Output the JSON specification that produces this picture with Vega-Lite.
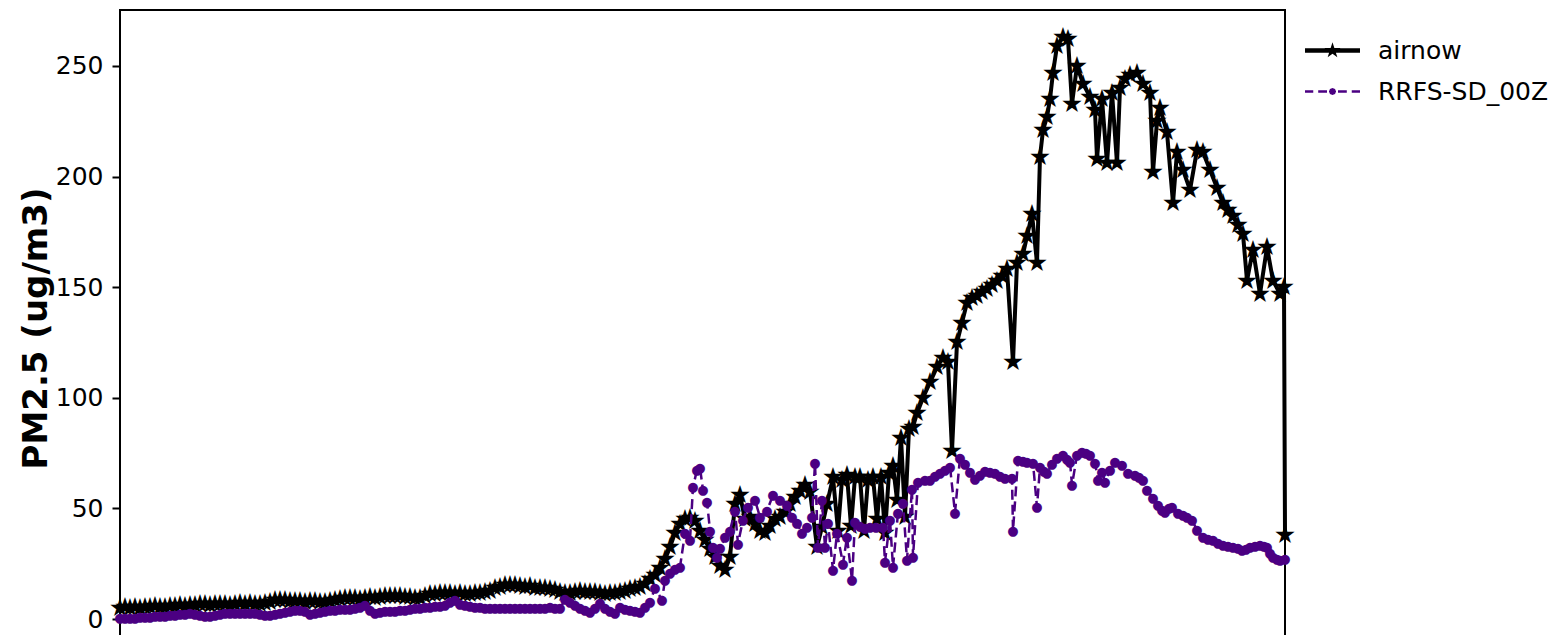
{
  "$schema": "https://vega.github.io/schema/vega-lite/v6.json",
  "width": 1165,
  "height": 638,
  "autosize": "none",
  "padding": {"left": 120, "top": 10, "right": 281, "bottom": 0},
  "background": "white",
  "config": {"view": {"stroke": "black", "strokeWidth": 2}, "mark": {"invalid": "show"}},
  "datasets": {
    "airnow": [
      {"t":0,"v":5.1},{"t":5,"v":5.3},{"t":10,"v":5.0},{"t":15,"v":5.5},{"t":20,"v":5.2},{"t":25,"v":5.6},{"t":30,"v":5.4},{"t":35,"v":5.8},{"t":40,"v":5.5},{"t":45,"v":5.6},
      {"t":50,"v":6.0},{"t":55,"v":5.7},{"t":60,"v":6.2},{"t":65,"v":6.0},{"t":70,"v":6.5},{"t":75,"v":6.2},{"t":80,"v":6.6},{"t":85,"v":6.8},{"t":90,"v":6.5},{"t":95,"v":6.9},
      {"t":100,"v":6.6},{"t":105,"v":6.8},{"t":110,"v":6.5},{"t":115,"v":6.9},{"t":120,"v":7.1},{"t":125,"v":6.8},{"t":130,"v":7.1},{"t":135,"v":6.9},{"t":140,"v":6.7},{"t":145,"v":7.2},
      {"t":150,"v":7.8},{"t":155,"v":8.4},{"t":160,"v":8.6},{"t":165,"v":8.4},{"t":170,"v":8.0},{"t":175,"v":8.3},{"t":180,"v":8.0},{"t":185,"v":7.6},{"t":190,"v":8.0},{"t":195,"v":8.3},
      {"t":200,"v":7.8},{"t":205,"v":7.6},{"t":210,"v":8.2},{"t":215,"v":8.6},{"t":220,"v":9.0},{"t":225,"v":9.4},{"t":230,"v":9.5},{"t":235,"v":9.5},{"t":240,"v":9.2},{"t":245,"v":9.6},
      {"t":250,"v":9.8},{"t":255,"v":9.4},{"t":260,"v":9.8},{"t":265,"v":10.2},{"t":270,"v":10.4},{"t":275,"v":10.6},{"t":280,"v":10.4},{"t":285,"v":10.0},{"t":290,"v":9.8},{"t":295,"v":9.4},
      {"t":300,"v":9.5},{"t":305,"v":10.5},{"t":310,"v":11.2},{"t":315,"v":11.5},{"t":320,"v":11.8},{"t":325,"v":11.9},{"t":330,"v":11.6},{"t":335,"v":11.4},{"t":340,"v":11.8},{"t":345,"v":11.5},
      {"t":350,"v":11.3},{"t":355,"v":11.6},{"t":360,"v":11.6},{"t":365,"v":12.0},{"t":370,"v":12.8},{"t":375,"v":13.8},{"t":380,"v":14.6},{"t":385,"v":15.2},{"t":390,"v":15.4},{"t":395,"v":15.2},
      {"t":400,"v":14.8},{"t":405,"v":14.5},{"t":410,"v":14.8},{"t":415,"v":14.2},{"t":420,"v":13.9},{"t":425,"v":14.2},{"t":430,"v":13.7},{"t":435,"v":13.0},{"t":440,"v":12.0},{"t":445,"v":11.6},
      {"t":450,"v":11.8},{"t":455,"v":12.4},{"t":460,"v":12.6},{"t":465,"v":12.3},{"t":470,"v":12.0},{"t":475,"v":12.4},{"t":480,"v":11.8},{"t":485,"v":11.5},{"t":490,"v":11.8},{"t":495,"v":11.7},
      {"t":500,"v":12.0},{"t":505,"v":12.8},{"t":510,"v":13.5},{"t":515,"v":14.0},{"t":520,"v":14.5},{"t":525,"v":16.0},{"t":530,"v":18.0},{"t":535,"v":20.0},{"t":540,"v":23.0},{"t":545,"v":27.0},
      {"t":550,"v":32.5},{"t":555,"v":39.0},{"t":560,"v":43.0},{"t":565,"v":45.0},{"t":570,"v":45.5},{"t":575,"v":44.5},{"t":580,"v":40.0},{"t":585,"v":35.5},{"t":590,"v":31.5},{"t":595,"v":28.0},
      {"t":600,"v":24.0},{"t":605,"v":22.0},{"t":610,"v":28.0},{"t":615,"v":52.0},{"t":620,"v":56.0},{"t":625,"v":45.0},{"t":630,"v":46.0},{"t":635,"v":43.0},{"t":640,"v":40.0},{"t":645,"v":38.8},
      {"t":650,"v":42.0},{"t":655,"v":45.0},{"t":660,"v":46.0},{"t":665,"v":48.5},{"t":670,"v":52.0},{"t":675,"v":55.0},{"t":680,"v":58.0},{"t":685,"v":60.5},{"t":690,"v":57.5},{"t":697,"v":32.5},
      {"t":702,"v":41.6},{"t":707,"v":52},{"t":713,"v":64},{"t":718,"v":40},{"t":722,"v":63},{"t":727,"v":65},{"t":731,"v":42},{"t":735,"v":64},{"t":740,"v":64},{"t":744,"v":40},
      {"t":748,"v":63},{"t":753,"v":64},{"t":757,"v":45},{"t":761,"v":64},{"t":765,"v":39},{"t":769,"v":66},{"t":773,"v":69},{"t":777,"v":54},{"t":781,"v":82},{"t":785,"v":46},
      {"t":789,"v":86},{"t":793,"v":87},{"t":797,"v":93},{"t":803,"v":100},{"t":810,"v":107},{"t":817,"v":114},{"t":823,"v":118},{"t":828,"v":116},{"t":832,"v":76},{"t":837,"v":125},
      {"t":842,"v":134},{"t":847,"v":143},{"t":852,"v":145},{"t":857,"v":146},{"t":862,"v":148},{"t":867,"v":149},{"t":872,"v":151},{"t":877,"v":153},{"t":882,"v":155},{"t":887,"v":158},
      {"t":893,"v":116},{"t":897,"v":161},{"t":903,"v":165},{"t":907,"v":173},{"t":912,"v":183},{"t":917,"v":161},{"t":920,"v":209},{"t":923,"v":221},{"t":927,"v":227},{"t":930,"v":235},
      {"t":933,"v":247},{"t":937,"v":259},{"t":943,"v":263},{"t":948,"v":262},{"t":952,"v":233},{"t":957,"v":250},{"t":963,"v":242},{"t":970,"v":236},{"t":975,"v":230},{"t":977,"v":208},
      {"t":982,"v":235},{"t":987,"v":206},{"t":992,"v":238},{"t":997,"v":206},{"t":1000,"v":240},{"t":1005,"v":244},{"t":1010,"v":246},{"t":1017,"v":247},{"t":1023,"v":242},{"t":1030,"v":238},
      {"t":1033,"v":202},{"t":1037,"v":225},{"t":1040,"v":231},{"t":1047,"v":220},{"t":1053,"v":188},{"t":1057,"v":211},{"t":1063,"v":203},{"t":1070,"v":194},{"t":1077,"v":212},{"t":1083,"v":211},
      {"t":1090,"v":203},{"t":1097,"v":195},{"t":1103,"v":188},{"t":1108,"v":185},{"t":1113,"v":182},{"t":1118,"v":178},{"t":1123,"v":174},{"t":1127,"v":153},{"t":1133,"v":167},{"t":1140,"v":147},
      {"t":1147,"v":168},{"t":1153,"v":153},{"t":1160,"v":147},{"t":1164,"v":150},{"t":1165,"v":38}
    ],
    "rrfs": [
      {"t":0,"v":0.3},{"t":5,"v":0.4},{"t":10,"v":0.5},{"t":15,"v":0.6},{"t":20,"v":0.8},{"t":25,"v":1.0},{"t":30,"v":1.0},{"t":35,"v":1.2},{"t":40,"v":1.5},{"t":45,"v":1.3},
      {"t":50,"v":1.6},{"t":55,"v":1.9},{"t":60,"v":2.2},{"t":65,"v":2.4},{"t":70,"v":2.6},{"t":75,"v":2.3},{"t":80,"v":2.0},{"t":85,"v":1.5},{"t":90,"v":1.4},{"t":95,"v":1.8},
      {"t":100,"v":2.2},{"t":105,"v":2.6},{"t":110,"v":2.8},{"t":115,"v":2.9},{"t":120,"v":2.7},{"t":125,"v":2.5},{"t":130,"v":2.9},{"t":135,"v":2.8},{"t":140,"v":2.4},{"t":145,"v":2.0},
      {"t":150,"v":1.8},{"t":155,"v":2.2},{"t":160,"v":2.8},{"t":165,"v":3.2},{"t":170,"v":3.6},{"t":175,"v":3.9},{"t":180,"v":4.1},{"t":185,"v":3.5},{"t":190,"v":2.3},{"t":195,"v":2.8},
      {"t":200,"v":3.3},{"t":205,"v":3.6},{"t":210,"v":3.9},{"t":215,"v":4.2},{"t":220,"v":4.4},{"t":225,"v":4.6},{"t":230,"v":4.4},{"t":235,"v":4.8},{"t":240,"v":5.5},{"t":245,"v":6.3},
      {"t":250,"v":4.0},{"t":255,"v":2.9},{"t":260,"v":3.2},{"t":265,"v":3.5},{"t":270,"v":3.6},{"t":275,"v":3.8},{"t":280,"v":4.0},{"t":285,"v":4.2},{"t":290,"v":4.5},{"t":295,"v":4.8},
      {"t":300,"v":5.2},{"t":305,"v":5.4},{"t":310,"v":5.6},{"t":315,"v":5.8},{"t":320,"v":6.0},{"t":325,"v":6.3},{"t":330,"v":7.5},{"t":335,"v":8.6},{"t":340,"v":7.0},{"t":345,"v":6.2},
      {"t":350,"v":5.8},{"t":355,"v":5.6},{"t":360,"v":5.4},{"t":365,"v":5.2},{"t":370,"v":5.0},{"t":375,"v":5.0},{"t":380,"v":4.9},{"t":385,"v":4.9},{"t":390,"v":4.8},{"t":395,"v":4.8},
      {"t":400,"v":4.9},{"t":405,"v":5.0},{"t":410,"v":5.2},{"t":415,"v":5.2},{"t":420,"v":4.9},{"t":425,"v":5.0},{"t":430,"v":5.6},{"t":435,"v":5.0},{"t":440,"v":4.8},{"t":445,"v":8.9},
      {"t":450,"v":7.6},{"t":455,"v":6.3},{"t":460,"v":5.0},{"t":465,"v":4.2},{"t":470,"v":3.3},{"t":475,"v":5.0},{"t":480,"v":7.1},{"t":485,"v":5.2},{"t":490,"v":3.5},{"t":495,"v":2.6},
      {"t":500,"v":5.4},{"t":505,"v":4.6},{"t":510,"v":4.1},{"t":515,"v":3.5},{"t":520,"v":3.2},{"t":525,"v":5.5},{"t":530,"v":7.7},{"t":535,"v":14.0},{"t":542,"v":8.6},{"t":545,"v":17.6},
      {"t":550,"v":20.8},{"t":555,"v":22.5},{"t":560,"v":23.5},{"t":565,"v":38.8},{"t":570,"v":35.7},{"t":573,"v":59.7},{"t":577,"v":67.4},{"t":580,"v":68.3},{"t":583,"v":58.3},{"t":587,"v":53},
      {"t":590,"v":40},{"t":593,"v":32.5},{"t":597,"v":28},{"t":600,"v":32},{"t":605,"v":37},{"t":610,"v":40},{"t":615,"v":49},{"t":618,"v":34},{"t":623,"v":44.8},{"t":628,"v":50.6},
      {"t":635,"v":53.8},{"t":640,"v":46},{"t":647,"v":49},{"t":653,"v":56},{"t":660,"v":53.8},{"t":667,"v":51.5},{"t":672,"v":46},{"t":677,"v":43.4},{"t":682,"v":38.8},{"t":687,"v":41.6},
      {"t":692,"v":46},{"t":695,"v":70.5},{"t":698,"v":32.5},{"t":702,"v":53.8},{"t":705,"v":32.5},{"t":708,"v":43.4},{"t":713,"v":22},{"t":717,"v":38.8},{"t":723,"v":25},{"t":727,"v":37},
      {"t":732,"v":17.6},{"t":735,"v":44},{"t":740,"v":42},{"t":745,"v":41},{"t":750,"v":41.5},{"t":756,"v":41.6},{"t":763,"v":41.6},{"t":765,"v":25.8},{"t":770,"v":44.8},{"t":773,"v":23.5},
      {"t":778,"v":48},{"t":783,"v":52.4},{"t":787,"v":26.7},{"t":792,"v":59},{"t":793,"v":28},{"t":798,"v":62},{"t":805,"v":63},{"t":810,"v":63},{"t":815,"v":64.5},{"t":820,"v":66},
      {"t":825,"v":67.5},{"t":830,"v":68.8},{"t":835,"v":48},{"t":840,"v":73},{"t":845,"v":70},{"t":850,"v":66.5},{"t":855,"v":63.5},{"t":860,"v":65},{"t":865,"v":67},{"t":870,"v":66.5},
      {"t":875,"v":66},{"t":880,"v":64.5},{"t":885,"v":63.7},{"t":892,"v":63.7},{"t":893,"v":40},{"t":898,"v":72},{"t":903,"v":71.5},{"t":907,"v":71},{"t":913,"v":70.5},{"t":917,"v":50.6},
      {"t":920,"v":68.8},{"t":924,"v":67},{"t":927,"v":66},{"t":932,"v":70},{"t":937,"v":73},{"t":943,"v":74},{"t":947,"v":72.5},{"t":950,"v":71},{"t":952,"v":60.6},{"t":957,"v":74},
      {"t":962,"v":75.5},{"t":966,"v":75},{"t":970,"v":74},{"t":975,"v":70.5},{"t":978,"v":63},{"t":982,"v":66.5},{"t":985,"v":62},{"t":990,"v":67.4},{"t":995,"v":71},{"t":1002,"v":69.6},
      {"t":1008,"v":66},{"t":1015,"v":65},{"t":1019,"v":64},{"t":1023,"v":63},{"t":1027,"v":58.3},{"t":1033,"v":54.7},{"t":1038,"v":51.5},{"t":1042,"v":49.5},{"t":1045,"v":48.4},{"t":1049,"v":50},
      {"t":1052,"v":50.6},{"t":1058,"v":47.9},{"t":1063,"v":46.8},{"t":1067,"v":46},{"t":1072,"v":44.8},{"t":1077,"v":40.2},{"t":1083,"v":37},{"t":1088,"v":36.3},{"t":1093,"v":35.7},{"t":1098,"v":34.5},
      {"t":1103,"v":33.5},{"t":1108,"v":33},{"t":1113,"v":32.5},{"t":1118,"v":32},{"t":1122,"v":31.2},{"t":1126,"v":31.8},{"t":1130,"v":32.5},{"t":1135,"v":33},{"t":1140,"v":33.5},{"t":1144,"v":33},
      {"t":1147,"v":32.5},{"t":1150,"v":30},{"t":1153,"v":28},{"t":1157,"v":27},{"t":1160,"v":26.7},{"t":1165,"v":27}
    ]
  },
  "encoding": {
    "x": {"field": "t", "type": "quantitative", "scale": {"domain": [0, 1165], "nice": false, "zero": false}, "axis": null},
    "y": {
      "field": "v", "type": "quantitative",
      "scale": {"domain": [-13.1, 275.3], "nice": false, "zero": false},
      "axis": {
        "values": [0, 50, 100, 150, 200, 250],
        "tickSize": 8, "tickWidth": 2, "tickColor": "black",
        "domain": false, "grid": false,
        "labelFont": "DejaVu Sans", "labelFontSize": 25, "labelColor": "black", "labelPadding": 9,
        "title": "PM2.5 (ug/m3)", "titleFont": "DejaVu Sans", "titleFontSize": 34, "titleFontWeight": "bold", "titleColor": "black",
        "titleX": -74, "titleY": 318, "titleAngle": -90, "titleAlign": "center", "titleBaseline": "alphabetic"
      }
    }
  },
  "layer": [
    {
      "data": {"name": "airnow"},
      "mark": {"type": "line", "color": "black", "strokeWidth": 4, "strokeJoin": "round"}
    },
    {
      "data": {"name": "airnow"},
      "mark": {"type": "text", "text": "★", "font": "DejaVu Sans", "fontSize": 25, "color": "black", "align": "center", "baseline": "middle"}
    },
    {
      "data": {"name": "rrfs"},
      "mark": {"type": "line", "color": "#4B0082", "strokeWidth": 2.5, "strokeDash": [10, 5], "strokeJoin": "round"}
    },
    {
      "data": {"name": "rrfs"},
      "mark": {"type": "text", "text": "●", "font": "DejaVu Sans", "fontSize": 13, "color": "#4B0082", "align": "center", "baseline": "middle"}
    },
    {
      "data": {"values": [{"s": "airnow", "t": -200, "v": -200}, {"s": "RRFS-SD_00Z", "t": -200, "v": -200}]},
      "mark": {"type": "point", "filled": true, "clip": true},
      "encoding": {
        "color": {
          "field": "s", "type": "nominal",
          "scale": {"domain": ["airnow", "RRFS-SD_00Z"], "range": ["black", "#4B0082"]},
          "legend": {
            "title": null, "orient": "none", "legendX": 1185, "legendY": 13,
            "labelFont": "DejaVu Sans", "labelFontSize": 25, "labelColor": "black", "labelOffset": 18, "labelLimit": 400,
            "symbolSize": 3025, "symbolStrokeWidth": 0, "symbolOpacity": 1, "rowPadding": -6
          }
        },
        "shape": {
          "field": "s", "type": "nominal",
          "scale": {"domain": ["airnow", "RRFS-SD_00Z"], "range": [
            "M-1,-0.08L1,-0.08L1,0.08L-1,0.08Z M0,-0.3L0.0676,-0.093L0.2853,-0.0927L0.1094,0.0355L0.1763,0.2427L0,0.115L-0.1763,0.2427L-0.1094,0.0355L-0.2853,-0.0927L-0.0676,-0.093Z",
            "M-1,-0.045L-0.7,-0.045L-0.7,0.045L-1,0.045Z M-0.52,-0.045L-0.2,-0.045L-0.2,0.045L-0.52,0.045Z M0.2,-0.045L0.52,-0.045L0.52,0.045L0.2,0.045Z M0.7,-0.045L1,-0.045L1,0.045L0.7,0.045Z M-0.1,-0.045L0.1,-0.045L0.1,0.045L-0.1,0.045Z M0.13,0L0.092,0.092L0,0.13L-0.092,0.092L-0.13,0L-0.092,-0.092L0,-0.13L0.092,-0.092Z"
          ]},
          "legend": {
            "title": null, "orient": "none", "legendX": 1185, "legendY": 13,
            "labelFont": "DejaVu Sans", "labelFontSize": 25, "labelColor": "black", "labelOffset": 18, "labelLimit": 400,
            "symbolSize": 3025, "symbolStrokeWidth": 0, "symbolOpacity": 1, "rowPadding": -6
          }
        }
      }
    }
  ]
}
